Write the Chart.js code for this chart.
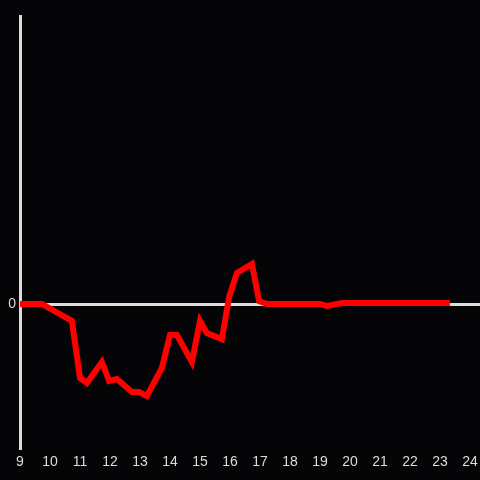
<!DOCTYPE html>
<html>
<head>
<meta charset="utf-8">
<script src="https://cdn.jsdelivr.net/npm/chart.js@4/dist/chart.umd.min.js"></script>
<style>
  html,body{margin:0;padding:0;background:#050407;}
  #wrap{width:480px;height:480px;}
</style>
</head>
<body>
<div id="wrap"><canvas id="c"></canvas></div>
<script>
/* ---------- Data ---------- */
const hours  = [9, 9.73, 10.73, 11.0, 11.23, 11.73, 11.97, 12.23, 12.73, 12.97, 13.23, 13.73, 14.0, 14.23, 14.73, 15.0, 15.23, 15.73, 15.97, 16.23, 16.73, 16.97, 17.23, 19.0, 19.23, 19.73, 23.33];
const values = [0, 0, -17, -74, -79, -58, -77, -75, -88, -88, -92, -64, -31, -31, -58, -17, -29, -35, 7, 31, 40, 3, 0, 0, -2, 1, 1];
const xTicks = [9,10,11,12,13,14,15,16,17,18,19,20,21,22,23,24];
const yTicks = [0];

/* ---------- Render ---------- */
const axisColor = '#dcdcdc';
const points = hours.map((h,i)=>({x:h, y:values[i]}));
new Chart(document.getElementById('c'),{
  type:'line',
  data:{datasets:[{
    data:points,
    borderColor:'#ff0000',
    borderWidth:6,
    pointRadius:0,
    tension:0,
    fill:false
  }]},
  options:{
    responsive:true,
    maintainAspectRatio:false,
    animation:false,
    layout:{padding:{top:16,right:0,left:0,bottom:0}},
    plugins:{legend:{display:false},tooltip:{enabled:false}},
    scales:{
      x:{
        type:'linear', min:9, max:24.333,
        afterBuildTicks:s=>{ s.ticks = xTicks.map(v=>({value:v})); },
        afterFit:s=>{ s.height = 32; s.paddingRight = 0; s.paddingLeft = 0; },
        border:{display:false},
        grid:{display:false, drawTicks:false},
        ticks:{color:axisColor, padding:6, maxRotation:0, autoSkip:false,
               font:{family:'Liberation Sans, Arial', size:14}}
      },
      y:{
        type:'linear', min:-144, max:288,
        afterBuildTicks:s=>{ s.ticks = yTicks.map(v=>({value:v})); },
        afterFit:s=>{ s.width = 20; s.paddingTop = 0; s.paddingBottom = 0; },
        border:{display:true, color:axisColor, width:3},
        grid:{drawTicks:false, color:axisColor, lineWidth:3},
        ticks:{color:axisColor, padding:4,
               font:{family:'Liberation Sans, Arial', size:14}}
      }
    }
  }
});
</script>
</body>
</html>
